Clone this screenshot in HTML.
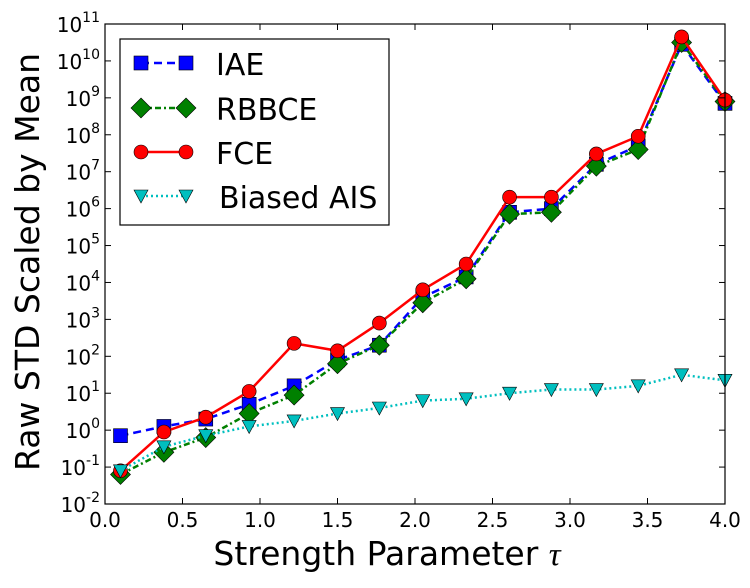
<!DOCTYPE html>
<html><head><meta charset="utf-8"><style>
body{margin:0;background:#fff;}
svg text{font-family:"DejaVu Sans","Liberation Sans",sans-serif;}
</style></head><body>
<svg id="chart" width="750" height="583" xmlns="http://www.w3.org/2000/svg">
<rect width="750" height="583" fill="#fff"/>
<g id="grid"></g>
<g id="series"></g>
<rect x="105" y="24" width="620" height="480" fill="none" stroke="#000" stroke-width="1.2"/>
<g id="ticks"></g>
<text x="387" y="565" font-size="33" text-anchor="middle">Strength Parameter <tspan font-style="italic" font-family="Liberation Serif,serif">τ</tspan></text>
<text transform="translate(39,262) rotate(-90)" font-size="33" text-anchor="middle">Raw STD Scaled by Mean</text>
<g>
<rect x="120" y="39" width="269" height="186" fill="#fff" stroke="#000" stroke-width="1.2"/>
<g>
<line x1="141" y1="63" x2="186" y2="63" stroke="#00f" stroke-width="2.5" stroke-dasharray="8,5"/>
<rect x="134" y="56" width="14" height="14" fill="#00f" stroke="#000" stroke-width="0.6"/>
<rect x="179" y="56" width="14" height="14" fill="#00f" stroke="#000" stroke-width="0.6"/>
<text x="216" y="75" font-size="30">IAE</text></g>
<g>
<line x1="141" y1="108" x2="186" y2="108" stroke="#008000" stroke-width="2.5" stroke-dasharray="6,3,2,3"/>
<polygon points="141,98 151,108 141,118 131,108" fill="#008000" stroke="#000" stroke-width="0.6"/>
<polygon points="186,98 196,108 186,118 176,108" fill="#008000" stroke="#000" stroke-width="0.6"/>
<text x="216" y="120" font-size="30">RBBCE</text></g>
<g>
<line x1="141" y1="152" x2="186" y2="152" stroke="#f00" stroke-width="2.5"/>
<circle cx="141" cy="152" r="7" fill="#f00" stroke="#000" stroke-width="0.6"/>
<circle cx="186" cy="152" r="7" fill="#f00" stroke="#000" stroke-width="0.6"/>
<text x="216" y="164" font-size="30">FCE</text></g>
<g>
<line x1="141" y1="196" x2="186" y2="196" stroke="#00bfbf" stroke-width="2.5" stroke-dasharray="2,3"/>
<polygon points="134,190 148,190 141,203" fill="#00bfbf" stroke="#000" stroke-width="0.6"/>
<polygon points="179,190 193,190 186,203" fill="#00bfbf" stroke="#000" stroke-width="0.6"/>
<text x="219" y="208" font-size="30">Biased AIS</text></g>
</g>
</svg>
<script>
const xValues=[0.1,0.38,0.65,0.93,1.22,1.5,1.77,2.05,2.33,2.61,2.88,3.17,3.44,3.72,4.0];
const iaeLog=[-0.15,0.1,0.3,0.7,1.2,1.9,2.3,3.6,4.15,5.9,6.0,7.2,7.7,10.45,8.85];
const rbbceLog=[-1.2,-0.6,-0.2,0.45,0.95,1.8,2.3,3.45,4.1,5.85,5.9,7.15,7.6,10.5,8.9];
const fceLog=[-1.1,-0.05,0.35,1.05,2.35,2.15,2.9,3.8,4.5,6.31,6.31,7.48,7.96,10.65,8.94];
const aisLog=[-1.1,-0.45,-0.15,0.1,0.25,0.45,0.6,0.8,0.85,1.0,1.1,1.1,1.2,1.5,1.35];
const xTicks=[0,0.5,1,1.5,2,2.5,3,3.5,4];
const xTickLabels=["0.0","0.5","1.0","1.5","2.0","2.5","3.0","3.5","4.0"];
const yTickExps=[-2,-1,0,1,2,3,4,5,6,7,8,9,10,11];
const NS="http://www.w3.org/2000/svg";
const X0=105,X1=725,Y0=504,Y1=24;
const sx=v=>X0+(v-0)/(4-0)*(X1-X0);
const sy=e=>Y0-(e-(-2))/(11-(-2))*(Y0-Y1);
function mk(tag,attrs,parent){const e=document.createElementNS(NS,tag);for(const k in attrs)e.setAttribute(k,attrs[k]);parent.appendChild(e);return e;}
const ticks=document.getElementById('ticks');
xTicks.forEach((v,i)=>{
 mk('line',{x1:sx(v),x2:sx(v),y1:Y0,y2:Y0-6,stroke:'#000'},ticks);
 mk('line',{x1:sx(v),x2:sx(v),y1:Y1,y2:Y1+6,stroke:'#000'},ticks);
 const t=mk('text',{x:sx(v),y:527,'font-size':20,'text-anchor':'middle'},ticks);
 t.textContent=xTickLabels[i];
 
 
});
yTickExps.forEach(e=>{
 const y=sy(e);
 mk('line',{x1:X0,x2:X0+6,y1:y,y2:y,stroke:'#000'},ticks);
 mk('line',{x1:X1,x2:X1-6,y1:y,y2:y,stroke:'#000'},ticks);
 const t=mk('text',{x:100,y:y+8,'font-size':20,'text-anchor':'end'},ticks);
 
 
 t.appendChild(document.createTextNode('10'));
 const s=mk('tspan',{dy:-10,'font-size':14},t);s.textContent=String(e);
});
const series=document.getElementById('series');
function drawSeries(vals,name,color,dash,marker){
 const g=mk('g',{},series);
 
 
 const pts=vals.map((v,i)=>sx(xValues[i])+','+sy(v)).join(' ');
 const l=mk('polyline',{points:pts,fill:'none',stroke:color,'stroke-width':2.5},g);
 if(dash)l.setAttribute('stroke-dasharray',dash);
 vals.forEach((v,i)=>{
  const x=sx(xValues[i]),y=sy(v);let m;
  if(marker==='sq')m=mk('rect',{x:x-7,y:y-7,width:14,height:14},g);
  else if(marker==='di')m=mk('polygon',{points:`${x},${y-10} ${x+10},${y} ${x},${y+10} ${x-10},${y}`},g);
  else if(marker==='ci')m=mk('circle',{cx:x,cy:y,r:7},g);
  else m=mk('polygon',{points:`${x-7},${y-6} ${x+7},${y-6} ${x},${y+7}`},g);
  m.setAttribute('fill',color);m.setAttribute('stroke','#000');m.setAttribute('stroke-width','0.6');
  
  
 });
}
drawSeries(iaeLog,'iae-series','#00f','8,5','sq');
drawSeries(rbbceLog,'rbbce-series','#008000','6,3,2,3','di');
drawSeries(fceLog,'fce-series','#f00',null,'ci');
drawSeries(aisLog,'biased-ais-series','#00bfbf','2,3','tri');
</script>
</body></html>
